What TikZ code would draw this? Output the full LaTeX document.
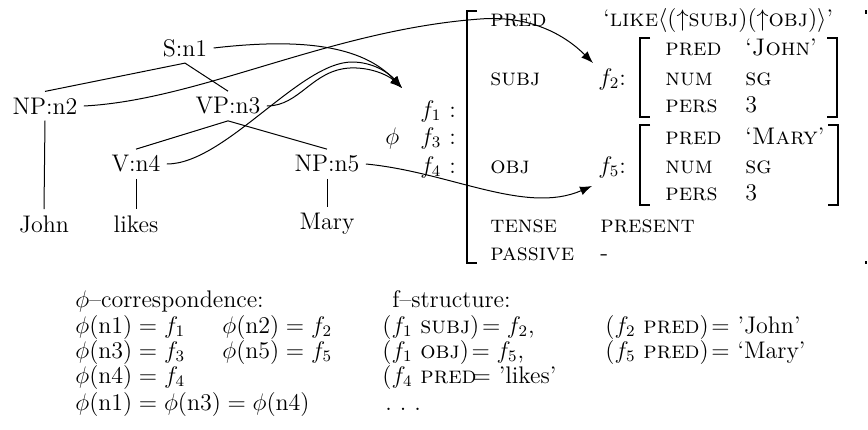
\documentclass[tikz,border=0pt]{standalone}
\usepackage{amsmath}
\usetikzlibrary{arrows.meta}
\begin{document}
\begin{tikzpicture}[x=0.5pt, y=-0.5pt,
  every node/.style={font=\fontsize{12}{14}\selectfont},
  cat/.style={inner sep=3pt},
  attr/.style={anchor=base west, inner sep=0pt},
  edge/.style={line width=0.5pt},
  map/.style={-{Latex[length=6pt,width=4.5pt]}, line width=0.5pt},
  brack/.style={line width=0.9pt}
]
  \useasboundingbox (0,0) rectangle (868,429);
  \node[cat] (n1) at (185,48) {S:n1};
  \node[cat] (n2) at (45,106) {NP:n2};
  \node[cat] (n3) at (228,106) {VP:n3};
  \node[cat] (n4) at (136,164) {V:n4};
  \node[cat] (n5) at (327,164) {NP:n5};
  \node[cat] (john) at (44,224) {John};
  \node[cat] (likes) at (136,224) {likes};
  \node[cat] (mary) at (327,224) {Mary};
  \draw[edge] (n1.south) -- (n2.north);
  \draw[edge] (n1.south) -- (n3.north);
  \draw[edge] (n3.south) -- (n4.north);
  \draw[edge] (n3.south) -- (n5.north);
  \draw[edge] (n2.south) -- (john.north);
  \draw[edge] (n4.south) -- (likes.north);
  \draw[edge] (n5.south) -- (mary.north);
  \node[attr] (lf1) at (420,117) {$f_1$ :};
  \node[attr] (lphi) at (385,144) {$\phi$};
  \node[attr] (lf3) at (420,144) {$f_3$ :};
  \node[attr] (lf4) at (420,173) {$f_4$ :};
  \draw[brack] (477,11) -- (467,11) -- (467,263) -- (477,263);
  \draw[brack] (866,10) -- (866,14);
  \draw[brack] (866,261) -- (866,264);
  \node[attr] (pred) at (490,26) {\textsc{pred}};
  \node[attr] (predval) at (603,26) {`\textsc{like}$\langle(\uparrow$\textsc{subj}$)(\uparrow$\textsc{obj}$)\rangle$'};
  \node[attr] (subj) at (490,85) {\textsc{subj}};
  \node[attr] (lf2) at (598,85) {$f_2$:};
  \draw[brack] (650,38) -- (640,38) -- (640,117) -- (650,117);
  \draw[brack] (827,38) -- (837,38) -- (837,117) -- (827,117);
  \node[attr] (jpred) at (665,55) {\textsc{pred}};
  \node[attr] (jval) at (745,55) {`\textsc{John}'};
  \node[attr] (jnum) at (665,85) {\textsc{num}};
  \node[attr] (jsg) at (745,85) {\textsc{sg}};
  \node[attr] (jpers) at (665,112) {\textsc{pers}};
  \node[attr] (jthree) at (745,112) {3};
  \node[attr] (obj) at (490,173) {\textsc{obj}};
  \node[attr] (lf5) at (598,173) {$f_5$:};
  \draw[brack] (650,125) -- (640,125) -- (640,205) -- (650,205);
  \draw[brack] (828,125) -- (838,125) -- (838,205) -- (828,205);
  \node[attr] (mpred) at (665,144) {\textsc{pred}};
  \node[attr] (mval) at (745,144) {`\textsc{Mary}'};
  \node[attr] (mnum) at (665,173) {\textsc{num}};
  \node[attr] (msg) at (745,173) {\textsc{sg}};
  \node[attr] (mpers) at (665,200) {\textsc{pers}};
  \node[attr] (mthree) at (745,200) {3};
  \node[attr] (tense) at (490,232) {\textsc{tense}};
  \node[attr] (present) at (600,232) {\textsc{present}};
  \node[attr] (passive) at (490,260) {\textsc{passive}};
  \node[attr] (minus) at (600,260) {-};
  \coordinate (f1tip) at (402,88);
  \coordinate (f2tip) at (593,63);
  \coordinate (f5tip) at (592,186);
  \draw[map] (n1.east) .. controls (300,38) and (362,45) .. (f1tip);
  \draw[map] (n3.east) .. controls (300,106) and (312,70) .. (350,68) .. controls (370,67) and (388,75) .. (f1tip);
  \draw[map] (n4.east) .. controls (225,164) and (300,62) .. (352,62) .. controls (372,62) and (388,72) .. (f1tip);
  \draw[map] (n2.east) .. controls (200,100) and (330,30) .. (480,19) .. controls (530,15) and (565,35) .. (f2tip);
  \draw[map] (n5.east) .. controls (450,172) and (525,215) .. (f5tip);
  \node[attr] (corr) at (75,307) {$\phi$--correspondence:};
  \node[attr] (fstr) at (392,307) {f--structure:};
  \node[attr] (c11) at (75,333) {$\phi(\mathrm{n1}) = f_1$};
  \node[attr] (c12) at (222,333) {$\phi(\mathrm{n2}) = f_2$};
  \node[attr] (c21) at (75,358) {$\phi(\mathrm{n3}) = f_3$};
  \node[attr] (c22) at (222,358) {$\phi(\mathrm{n5}) = f_5$};
  \node[attr] (c31) at (75,383) {$\phi(\mathrm{n4}) = f_4$};
  \node[attr] (c41) at (75,410) {$\phi(\mathrm{n1}) = \phi(\mathrm{n3}) = \phi(\mathrm{n4})$};
  \node[attr] (e11) at (382,333) {$(f_1$ \textsc{subj}$)\!= f_2$,};
  \node[attr] (e12) at (605,333) {$(f_2$ \textsc{pred}$)\!=$ 'John'};
  \node[attr] (e21) at (382,358) {$(f_1$ \textsc{obj}$)\!= f_5$,};
  \node[attr] (e22) at (605,358) {$(f_5$ \textsc{pred}$)\!=$ `Mary'};
  \node[attr] (e31) at (382,383) {$(f_4$ \textsc{pred}$\!=$ 'likes'};
  \node[attr] (e41) at (385,410) {.\,\,.\,\,.};
\end{tikzpicture}
\end{document}
